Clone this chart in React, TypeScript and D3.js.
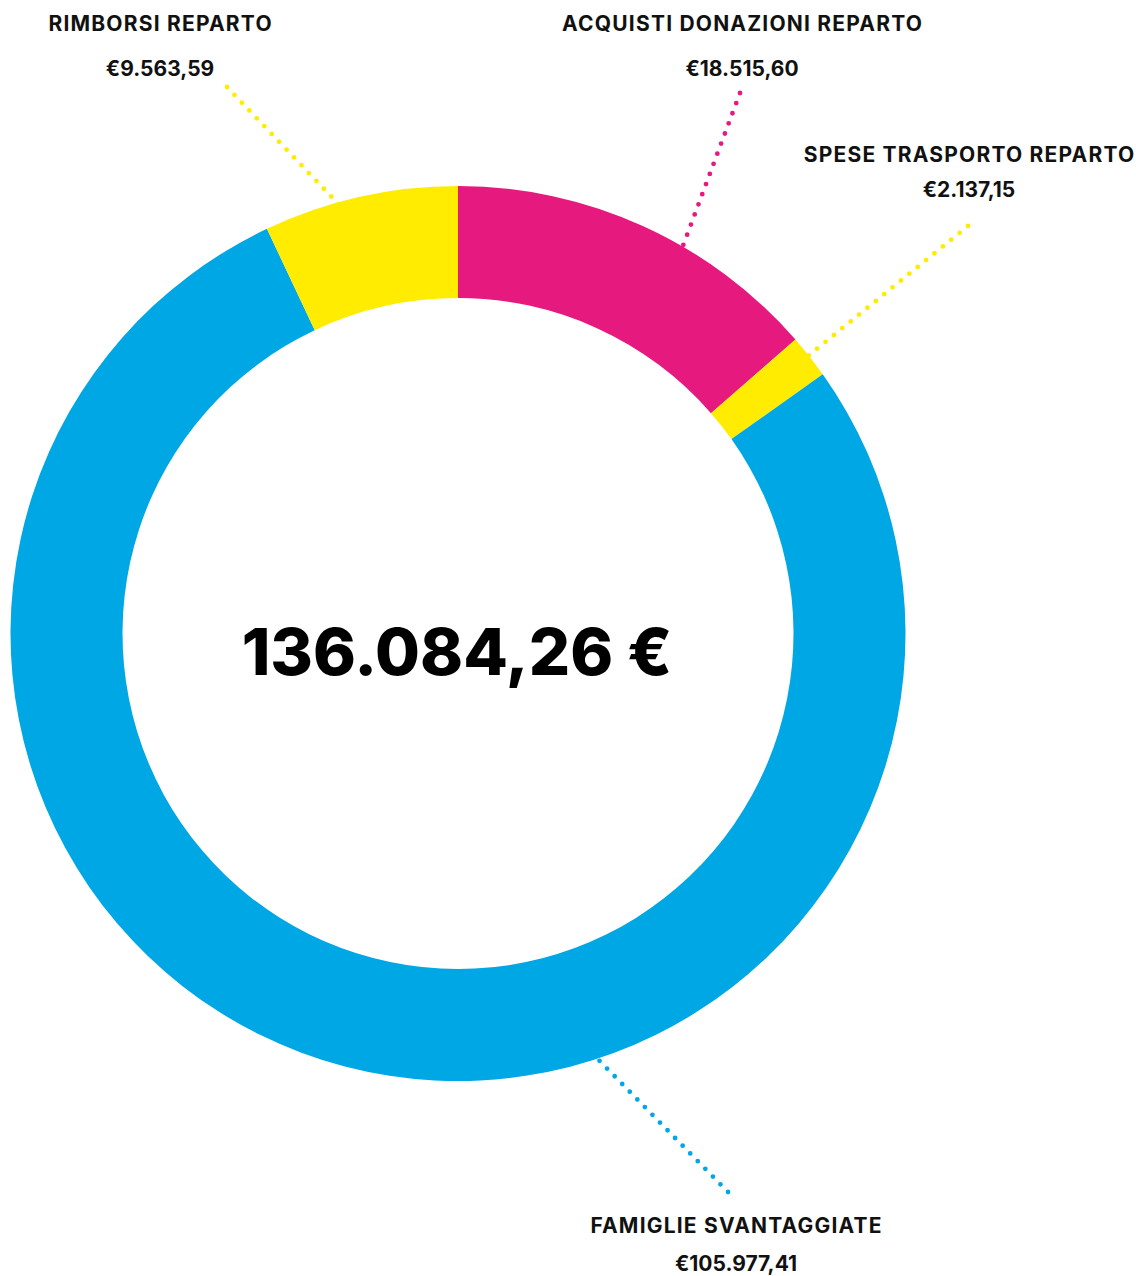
import React from "react";
import * as d3 from "d3";

const categories = [
  "ACQUISTI DONAZIONI REPARTO",
  "SPESE TRASPORTO REPARTO",
  "FAMIGLIE SVANTAGGIATE",
  "RIMBORSI REPARTO",
];
const values = [18515.6, 2137.15, 105977.41, 9563.59];
const valueLabels = ["€18.515,60", "€2.137,15", "€105.977,41", "€9.563,59"];
const colors = ["#E6197F", "#FFEC00", "#00A7E5", "#FFEC00"];
const totalLabel = "136.084,26 €";

// layout for annotations (label center x, label baseline, value baseline, leader start, leader angle in degrees)
const layout = [
  { x: 742, ly: 31, vy: 76, sx: 740, sy: 93, ang: 30.2 },
  { x: 969, ly: 162, vy: 197, sx: 968, sy: 226, ang: 51.6 },
  { x: 736, ly: 1233, vy: 1271, sx: 728, sy: 1192, ang: 162 },
  { x: 160, ly: 31, vy: 76, sx: 227, sy: 87, ang: 344.5 },
];

const W = 1136;
const H = 1276;
const cx = 458;
const cy = 633.5;
const rOuter = 447.5;
const rInner = 335.5;

export default function App() {
  const pie = d3
    .pie<number>()
    .sort(null)
    .value((d) => d)
    .startAngle(0)
    .endAngle(2 * Math.PI);
  const arcs = pie(values);
  const arc = d3.arc<d3.PieArcDatum<number>>().innerRadius(rInner).outerRadius(rOuter);
  const font = "Inter, 'Open Sans', sans-serif";
  const ls = 1.2;

  return (
    <svg
      width={W}
      height={H}
      style={{ position: "absolute", left: 0, top: 0, background: "#fff" }}
    >
      {layout.map((l, i) => {
        const a = (l.ang * Math.PI) / 180;
        const ex = cx + 445 * Math.sin(a);
        const ey = cy - 445 * Math.cos(a);
        return (
          <line
            key={"l" + i}
            x1={l.sx}
            y1={l.sy}
            x2={ex}
            y2={ey}
            stroke={colors[i]}
            strokeWidth={4.8}
            strokeLinecap="round"
            strokeDasharray="0 10.8"
          />
        );
      })}
      <g transform={`translate(${cx},${cy})`}>
        {arcs.map((d, i) => (
          <path key={i} d={arc(d) || ""} fill={colors[i]} />
        ))}
      </g>
      {layout.map((l, i) => (
        <g key={"t" + i} fontFamily={font} fontWeight={700} textAnchor="middle" fill="#111">
          <text x={l.x + ls / 2} y={l.ly} fontSize={21} letterSpacing={ls}>
            {categories[i]}
          </text>
          <text x={l.x} y={l.vy} fontSize={21}>
            {valueLabels[i]}
          </text>
        </g>
      ))}
      <text
        x={457}
        y={675}
        textAnchor="middle"
        fontFamily={font}
        fontWeight={800}
        fontSize={65}
        fill="#000"
      >
        {totalLabel}
      </text>
    </svg>
  );
}
